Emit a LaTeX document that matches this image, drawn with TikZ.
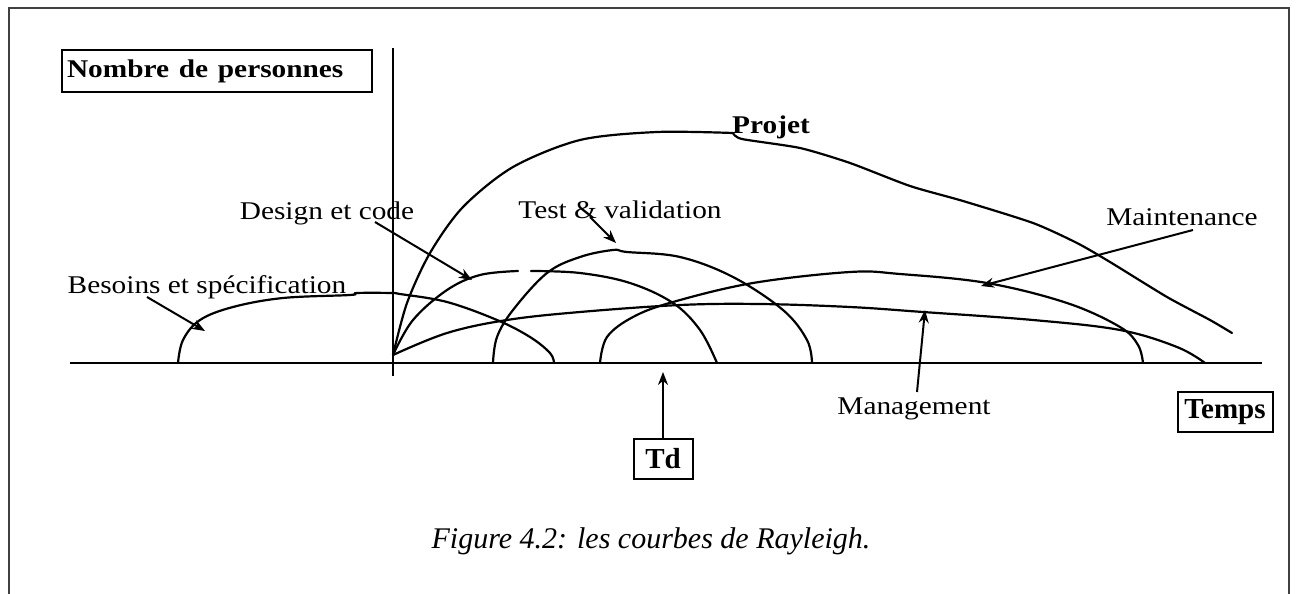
\documentclass[tikz,border=0pt]{standalone}
\usepackage{fontspec}
\setmainfont{Liberation Serif}
\usetikzlibrary{arrows.meta}
\newcommand{\stretchx}[1]{\scalebox{1.15}[1]{#1}}
\begin{document}
\begin{tikzpicture}[x=1pt,y=-1pt,
  lab/.style={font=\fontsize{25.5}{30}\selectfont, inner sep=0pt},
  boxlab/.style={draw, line width=2pt, inner sep=0pt, font=\fontsize{29}{34}\selectfont\bfseries},
  curve/.style={line width=2.2pt, line join=round, line cap=round},
  axis/.style={line width=2.3pt},
  arr/.style={line width=2pt, -{Stealth[length=13pt,width=10pt]}},
  frame/.style={line width=2.5pt, black!75}]
\useasboundingbox (0,0) rectangle (1296,594);
% frame
\draw[frame] (9,594) -- (9,8) -- (1289,8) -- (1289,594);
% axes
\draw[axis] (70,363) -- (1262,363);
\draw[line width=1.8pt] (393,48) -- (393,376);
% boxed labels
\node[boxlab, minimum width=310pt, minimum height=42pt, text width=300pt, align=left, font=\fontsize{25.5}{30}\selectfont\bfseries] (nb) at (217,71) {\stretchx{Nombre de personnes}};
\node[boxlab, minimum width=95pt, minimum height=40pt] (temps) at (1225,412) {Temps};
\node[boxlab, minimum width=59pt, minimum height=40pt] (td) at (663,459) {Td};
% curve labels
\node[lab] (lbes) at (207,287) {\stretchx{Besoins et spécification}};
\node[lab] (ldes) at (327,213) {\stretchx{Design et code}};
\node[lab] (ltest) at (620,210) {\stretchx{Test \& validation}};
\node[lab, font=\fontsize{25.5}{30}\selectfont\bfseries] (lproj) at (771,127) {\stretchx{Projet}};
\node[lab] (lmaint) at (1182,217) {\stretchx{Maintenance}};
\node[lab] (lmgmt) at (914,409) {\stretchx{Management}};
% caption
\node[font=\fontsize{30}{36}\selectfont\itshape, inner sep=0pt] (cap) at (651,541) {Figure 4.2: les courbes de Rayleigh.};
% curves
% Besoins et specification
\draw[curve] plot[smooth, tension=0.6] coordinates {(178,363) (183,340) (200,320) (233,307) (283,298) (350,295) (357,293) (392,293) (400,294) (447,302) (497,320) (530,337) (550,353) (554,363)};
% Design et code (with small gap at the top)
\draw[curve] plot[smooth, tension=0.6] coordinates {(393,355) (413,320) (447,290) (480,275) (518,271)};
\draw[curve] plot[smooth, tension=0.6] coordinates {(531,271) (580,273) (630,283) (673,303) (700,330) (717,363)};
% Test et validation
\draw[curve] plot[smooth, tension=0.6] coordinates {(493,363) (497,337) (513,310) (547,273) (580,257) (613,250) (627,252) (680,257) (733,277) (783,310) (807,340) (812,363)};
% Projet
\draw[curve] plot[smooth, tension=0.5] coordinates {(393,355) (407,303) (430,253) (463,207) (513,167) (580,140) (657,132) (733,133)};
\draw[curve] plot[smooth, tension=0.4] coordinates {(733,133) (742,139) (800,148) (850,163) (910,186) (963,201) (1033,223) (1077,243) (1110,262) (1167,297) (1210,320) (1232,333)};
% Maintenance
\draw[curve] plot[smooth, tension=0.6] coordinates {(600,363) (607,337) (633,317) (673,302) (753,283) (850,272) (900,274) (987,283) (1067,303) (1120,327) (1138,345) (1143,363)};
% Management
\draw[curve] plot[smooth, tension=0.6] coordinates {(393,355) (447,333) (507,320) (580,312) (680,305) (760,304) (850,307) (923,312) (1033,320) (1120,330) (1177,347) (1205,363)};
% arrows
\coordinate (bes0) at (147,297); \coordinate (bes1) at (205,331);
\coordinate (des0) at (375,222); \coordinate (des1) at (472,280);
\coordinate (tst0) at (590,217); \coordinate (tst1) at (616,243);
\coordinate (mai0) at (1193,230); \coordinate (mai1) at (981,286);
\coordinate (mgt0) at (917,392); \coordinate (mgt1) at (925,310);
\coordinate (tdtip) at (663,372);
\draw[arr] (bes0) -- (bes1);
\draw[arr] (des0) -- (des1);
\draw[arr] (tst0) -- (tst1);
\draw[arr] (mai0) -- (mai1);
\draw[arr] (mgt0) -- (mgt1);
\draw[arr] (td.north) -- (tdtip);
\end{tikzpicture}
\end{document}
